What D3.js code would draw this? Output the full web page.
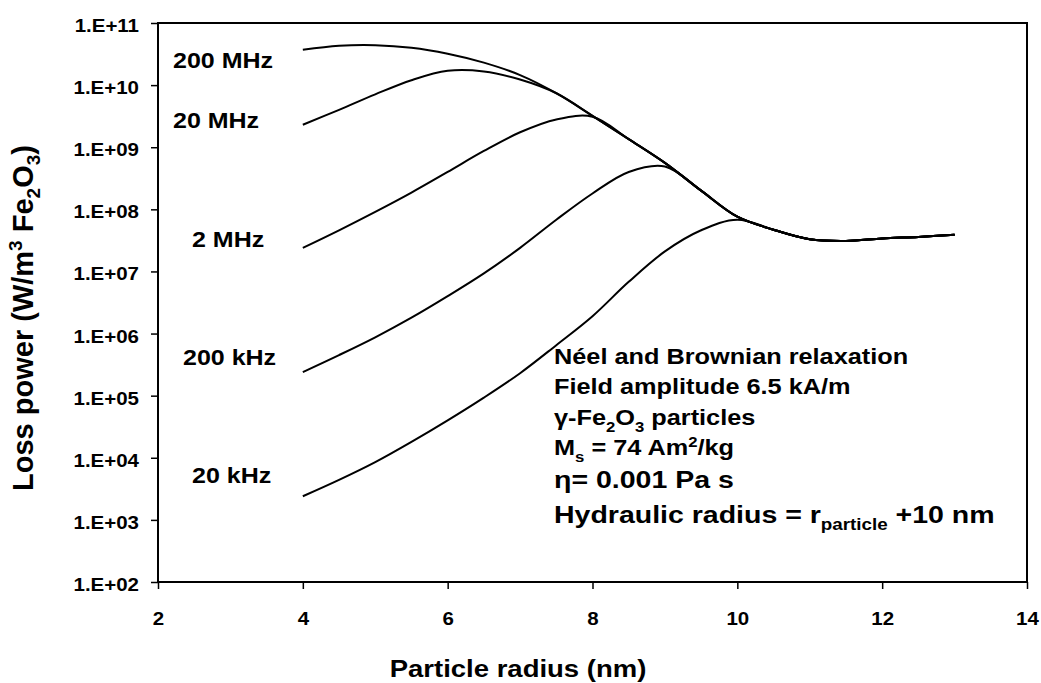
<!DOCTYPE html>
<html>
<head>
<meta charset="utf-8">
<script src="https://cdn.jsdelivr.net/npm/d3@7"></script>
<style>
  body { margin: 0; background: #fff; }
  svg text { font-family: "Liberation Sans", Arial, sans-serif; font-weight: bold; fill: #000; }
</style>
</head>
<body>
<svg id="chart" width="1041" height="683"></svg>
<script>
// particle radius (nm)
const radius = [4, 4.5, 5, 5.5, 6, 6.5, 7, 7.5, 8, 8.5, 9, 9.5, 10, 10.5, 11, 11.5, 12, 12.5, 13];

// loss power (W/m3 Fe2O3), one list per field frequency
const loss20kHz  = [2.4e3, 4.4e3, 8.5e3, 1.8e4, 4.0e4, 9.3e4, 2.3e5, 6.5e5, 1.9e6, 6.8e6, 2.1e7, 4.6e7, 6.8e7, 4.7e7, 3.3e7, 3.1e7, 3.4e7, 3.6e7, 3.9e7];
const loss200kHz = [2.4e5, 4.5e5, 8.7e5, 1.8e6, 4.0e6, 9.3e6, 2.4e7, 6.8e7, 1.8e8, 4.0e8, 4.9e8, 2.0e8, 7.6e7, 4.7e7, 3.3e7, 3.1e7, 3.4e7, 3.6e7, 3.9e7];
const loss2MHz   = [2.4e7, 4.6e7, 9.1e7, 1.86e8, 4.0e8, 8.7e8, 1.74e9, 2.8e9, 3.1e9, 1.35e9, 5.6e8, 2.0e8, 7.6e7, 4.7e7, 3.3e7, 3.1e7, 3.4e7, 3.6e7, 3.9e7];
const loss20MHz  = [2.3e9, 4.0e9, 7.1e9, 1.2e10, 1.7e10, 1.66e10, 1.23e10, 7.4e9, 3.2e9, 1.35e9, 5.6e8, 2.0e8, 7.6e7, 4.7e7, 3.3e7, 3.1e7, 3.4e7, 3.6e7, 3.9e7];
const loss200MHz = [3.7e10, 4.3e10, 4.4e10, 4.0e10, 3.2e10, 2.3e10, 1.45e10, 7.4e9, 3.2e9, 1.35e9, 5.6e8, 2.0e8, 7.6e7, 4.7e7, 3.3e7, 3.1e7, 3.4e7, 3.6e7, 3.9e7];

const seriesNames = ["20 kHz", "200 kHz", "2 MHz", "20 MHz", "200 MHz"];
const seriesValues = [loss20kHz, loss200kHz, loss2MHz, loss20MHz, loss200MHz];

const xTicks = [2, 4, 6, 8, 10, 12, 14];
const yTicks = [1e2, 1e3, 1e4, 1e5, 1e6, 1e7, 1e8, 1e9, 1e10, 1e11];

const svg = d3.select("#chart");
const sy = 0.87; // the original picture is a bit squashed vertically, text too

const x = d3.scaleLinear().domain([2, 14]).range([158, 1027]);
const y = d3.scaleLog().domain([1e2, 1e11]).range([582, 23]);

// squash a text element around its baseline point
function place(sel, px, py) {
  return sel.attr("transform", `translate(${px},${py}) scale(1,${sy})`);
}

// axes
const yAxis = svg.append("g")
  .attr("transform", "translate(158,0)")
  .call(d3.axisLeft(y).tickValues(yTicks).tickSize(7).tickPadding(12)
    .tickFormat(d => "1.E+" + String(Math.round(Math.log10(d))).padStart(2, "0")));
yAxis.select(".domain").remove();
yAxis.selectAll("line").attr("stroke", "#000").attr("stroke-width", 1.5);
yAxis.selectAll("text")
  .attr("font-size", "20.5px")
  .attr("dy", 0)
  .attr("transform", `translate(0,8.5) scale(1,${sy})`);

const xAxis = svg.append("g")
  .attr("transform", "translate(0,582)")
  .call(d3.axisBottom(x).tickValues(xTicks).tickSize(7));
xAxis.select(".domain").remove();
xAxis.selectAll("line").attr("stroke", "#000").attr("stroke-width", 1.5);
xAxis.selectAll("text")
  .attr("font-size", "20.5px")
  .attr("y", 0)
  .attr("dy", 0)
  .attr("transform", `translate(0,43) scale(1,${sy})`);

// plot frame
svg.append("rect")
  .attr("x", 158).attr("y", 23)
  .attr("width", 1027 - 158).attr("height", 582 - 23)
  .attr("fill", "none")
  .attr("stroke", "#000")
  .attr("stroke-width", 2);

// curves
const line = d3.line()
  .x((d, i) => x(radius[i]))
  .y(d => y(d))
  .curve(d3.curveCatmullRom.alpha(0.5));

svg.append("g").selectAll("path")
  .data(seriesValues)
  .join("path")
  .attr("d", line)
  .attr("fill", "none")
  .attr("stroke", "#000")
  .attr("stroke-width", 2);

// frequency labels next to the curve starts
const labelPos = [[192, 483], [183, 365], [192, 247], [173, 128], [173, 68]];
seriesNames.forEach((name, i) => {
  place(svg.append("text").attr("font-size", "25px").text(name), labelPos[i][0], labelPos[i][1]);
});

// annotation block
function richLine(px, py, size, parts) {
  const t = place(svg.append("text").attr("font-size", size + "px"), px, py);
  parts.forEach(p => {
    const s = t.append("tspan").text(p.t);
    if (p.sub) s.attr("font-size", (size * 0.66) + "px").attr("dy", size * 0.3);
    if (p.sup) s.attr("font-size", (size * 0.66) + "px").attr("dy", -size * 0.36);
    if (p.back) s.attr("dy", p.back);
  });
  return t;
}
const ax = 554;
richLine(ax, 364, 25.3, [{ t: "Néel and Brownian relaxation" }]);
richLine(ax, 394, 25.3, [{ t: "Field amplitude 6.5 kA/m" }]);
richLine(ax, 425, 25.3, [
  { t: "γ-Fe" }, { t: "2", sub: true }, { t: "O", back: -25.3 * 0.3 },
  { t: "3", sub: true }, { t: " particles", back: -25.3 * 0.3 }
]);
richLine(ax, 455, 25.3, [
  { t: "M" }, { t: "s", sub: true }, { t: " = 74 Am", back: -25.3 * 0.3 },
  { t: "2", sup: true }, { t: "/kg", back: 25.3 * 0.36 }
]);
richLine(ax, 488, 28.5, [{ t: "η= 0.001 Pa s" }]);
richLine(ax, 523, 28.5, [
  { t: "Hydraulic radius = r" }, { t: "particle", sub: true }, { t: " +10 nm", back: -28.5 * 0.3 }
]);

// axis titles
place(svg.append("text").attr("font-size", "27.5px").attr("text-anchor", "middle")
  .text("Particle radius (nm)"), 518, 677);

const yt = svg.append("text")
  .attr("font-size", "29px")
  .attr("text-anchor", "middle")
  .attr("transform", "translate(33,318) rotate(-90)");
yt.append("tspan").text("Loss power (W/m");
yt.append("tspan").text("3").attr("font-size", "19px").attr("dy", -11);
yt.append("tspan").text(" Fe").attr("dy", 11);
yt.append("tspan").text("2").attr("font-size", "19px").attr("dy", 7);
yt.append("tspan").text("O").attr("dy", -7);
yt.append("tspan").text("3").attr("font-size", "19px").attr("dy", 7);
yt.append("tspan").text(")").attr("dy", -7);
</script>
</body>
</html>
